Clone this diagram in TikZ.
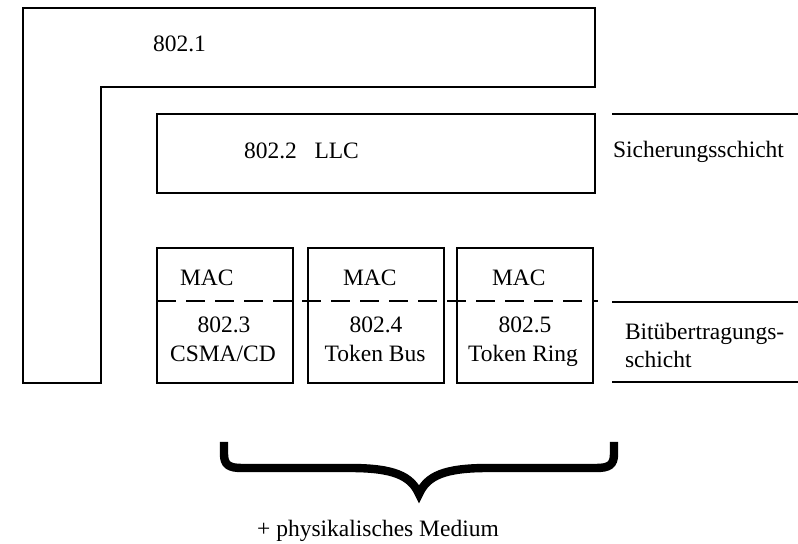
\documentclass[tikz,border=0pt]{standalone}
\usepackage{fontspec}
\setmainfont{Liberation Serif}
\tikzset{
  lbl/.style={anchor=base west,inner sep=0pt,font=\fontsize{11.75}{14}\selectfont},
  lblc/.style={lbl,anchor=base},
}
\begin{document}
\begin{tikzpicture}[x=0.5pt,y=-0.5pt,line width=1pt]
  \useasboundingbox (0,0) rectangle (798,544);
  % 802.1 (L-Form)
  \draw (23,8) -- (595,8) -- (595,87) -- (101,87) -- (101,383) -- (23,383) -- cycle;
  \node[lbl] (n8021) at (152,52) {802.1};
  % 802.2 LLC
  \draw (157,114) rectangle (595,193);
  \node[lbl] (n8022) at (243,159) {802.2\enspace\ LLC};
  % MAC: 802.3
  \draw (157,248) rectangle (293,383);
  \node[lbl] (mac3) at (179,286) {MAC};
  \node[lblc] (n8023) at (224,333) {802.3};
  \node[lblc] (csma) at (223,362) {CSMA/CD};
  % MAC: 802.4
  \draw (308,248) rectangle (444,383);
  \node[lbl] (mac4) at (342,286) {MAC};
  \node[lblc] (n8024) at (376,333) {802.4};
  \node[lblc] (tbus) at (375,362) {Token Bus};
  % MAC: 802.5
  \draw (457,248) rectangle (593,383);
  \node[lbl] (mac5) at (491,286) {MAC};
  \node[lblc] (n8025) at (525,333) {802.5};
  \node[lblc] (tring) at (523,362) {Token Ring};
  % MAC-Grenze
  \draw[dash pattern=on 9.5pt off 5pt] (157,301) -- (598,301);
  % Schichten rechts
  \draw (612,114) -- (798,114);
  \node[lbl] (sich) at (612,158) {Sicherungsschicht};
  \draw (612,302) -- (798,302);
  \node[lbl] (bitA) at (624,340) {Bitübertragungs-};
  \node[lbl] (bitB) at (624,368) {schicht};
  \draw (612,382) -- (798,382);
  % Klammer
  \coordinate (bl) at (224,442);
  \coordinate (br) at (614,442);
  \coordinate (tip) at (419,494);
  \draw[line width=4.2pt] (bl) -- (224,454) .. controls (224,465) and (229,468) .. (242,468)
    -- (350,468) .. controls (394,468) and (411,476) .. (tip)
    .. controls (427,476) and (444,468) .. (488,468)
    -- (596,468) .. controls (609,468) and (614,465) .. (614,454) -- (br);
  \node[lblc] (medium) at (378,537) {+ physikalisches Medium};
\end{tikzpicture}
\end{document}
